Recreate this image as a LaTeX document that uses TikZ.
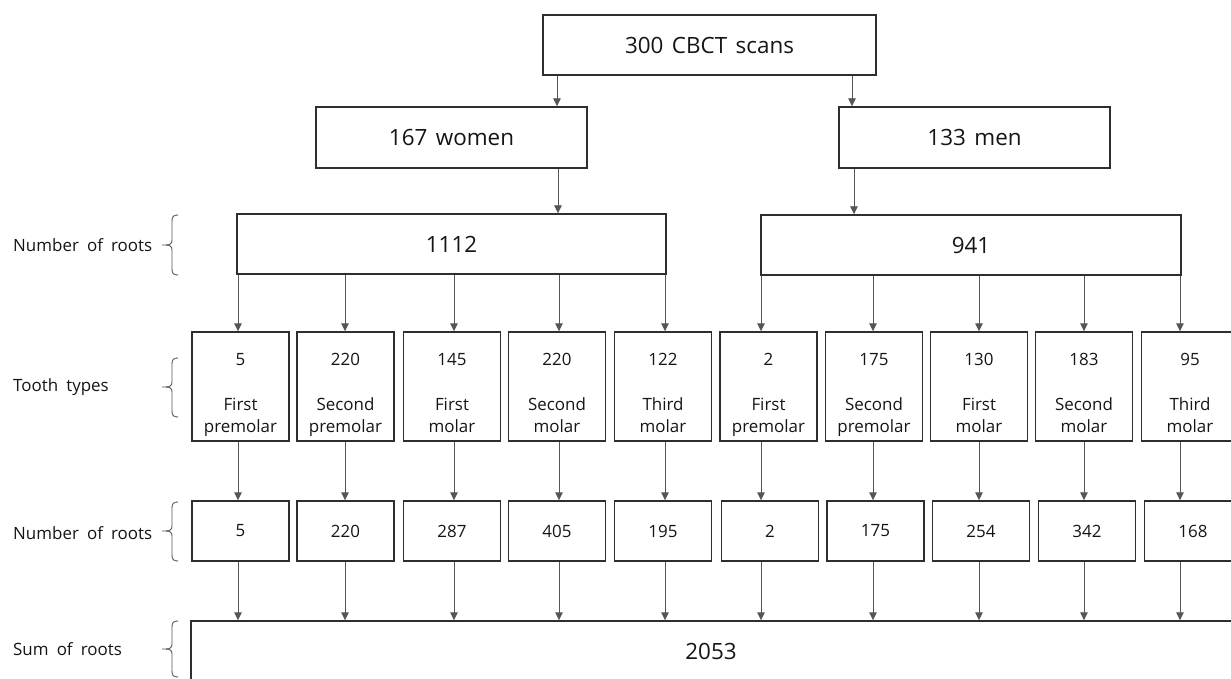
\documentclass[tikz,border=0pt]{standalone}
\usepackage{fontspec}
\setmainfont{Open Sans}
\usetikzlibrary{arrows.meta}
\definecolor{boxc}{HTML}{2E2E2E}
\definecolor{linec}{HTML}{555555}
\definecolor{txt}{HTML}{151515}
\definecolor{bracec}{HTML}{555555}
\newcommand\myBigFont{\fontsize{22.5}{26}\selectfont\spaceskip 0.38em\relax}
\newcommand\myMedFont{\fontsize{17}{22}\selectfont\spaceskip 0.48em\relax}
\begin{document}
\begin{tikzpicture}[x=1bp,y=-1bp,
  box/.style={draw=boxc, line width=1.4bp, inner sep=0pt},
  arr/.style={draw=linec, line width=0.9bp, -{Triangle[width=7.5bp,length=8bp]}},
  big/.style={font=\myBigFont, text=txt},
  med/.style={font=\myMedFont, text=txt},
  brc/.style={draw=bracec, line width=0.9bp},
]
\useasboundingbox (0,0) rectangle (1231,679);
\clip (0,0) rectangle (1231,679);

% top levels
\node[box, big, minimum width=333bp, minimum height=60bp] (top) at (709.5,45) {300 CBCT scans};
\node[box, big, minimum width=271bp, minimum height=61bp] (women) at (451.5,137.5) {167 women};
\node[box, big, minimum width=271bp, minimum height=61bp] (men) at (974.5,137.5) {133 men};
\node[box, big, minimum width=429bp, minimum height=60bp] (L) at (451.5,244) {1112};
\node[box, big, minimum width=420bp, minimum height=60bp] (R) at (971,245) {941};

\coordinate (cw) at (557,0);
\coordinate (cm) at (852,0);
\coordinate (cw2) at (558,0);
\coordinate (cm2) at (854,0);
\draw[arr] (top.south -| cw) -- (women.north -| cw);
\draw[arr] (top.south -| cm) -- (men.north -| cm);
\draw[arr] (women.south -| cw2) -- (L.north -| cw2);
\draw[arr] (men.south -| cm2) -- (R.north -| cm2);

% sum box
\node[box, minimum width=1059bp, minimum height=61bp] (sum) at (720.5,651.5) {};
\node[big] (sumtext) at (711,651) {2053};

% tooth and root boxes
\foreach \i/\cx/\ax/\num/\la/\lb/\ncx/\nn/\p in {
1/240.5/238/5/First/premolar/240.5/5/L,
2/345.5/345/220/Second/premolar/345.5/220/L,
3/452/454/145/First/molar/452/287/L,
4/557/559/220/Second/molar/557/405/L,
5/663/665/122/Third/molar/663/195/L,
6/768.5/761/2/First/premolar/770/2/R,
7/874/873/175/Second/premolar/875.5/175/R,
8/979/979/130/First/molar/981/254/R,
9/1084/1084/183/Second/molar/1087/342/R,
10/1190/1180/95/Third/molar/1193/168/R}
{
  \node[box, minimum width=97bp, minimum height=109bp] (t\i) at (\cx,386.5) {};
  \node[med, anchor=base, inner sep=0pt] (t\i n) at (\cx,365) {\num};
  \node[med, anchor=base, inner sep=0pt] (t\i a) at (\cx,410) {\la};
  \node[med, anchor=base, inner sep=0pt] (t\i b) at (\cx,432) {\lb};
  \node[box, med, minimum width=97bp, minimum height=60bp] (n\i) at (\ncx,531) {\nn};
  \coordinate (a\i) at (\ax,0);
  \draw[arr] (\p.south -| a\i) -- (t\i.north -| a\i);
  \draw[arr] (t\i.south -| a\i) -- (n\i.north -| a\i);
  \draw[arr] (n\i.south -| a\i) -- (sum.north -| a\i);
}

% left labels
\node[med, anchor=west, inner sep=0pt] (lab1) at (13,245) {Number of roots};
\node[med, anchor=west, inner sep=0pt] (lab2) at (13,387) {Tooth types};
\node[med, anchor=west, inner sep=0pt] (lab3) at (13,533) {Number of roots};
\node[med, anchor=west, inner sep=0pt] (lab4) at (13,649) {Sum of roots};

% braces
\foreach \t/\m/\b in {215/245/275, 358/387/417, 502/531/561, 621/649/677}
{
  \draw[brc] (178,\t) .. controls (173.5,\t) and (172,\t+1.5) .. (172,\t+6)
    -- (172,\m-5) .. controls (172,\m-1.5) and (170,\m) .. (166,\m) -- (162,\m);
  \draw[brc] (166,\m) .. controls (170,\m) and (172,\m+1.5) .. (172,\m+5)
    -- (172,\b-6) .. controls (172,\b-1.5) and (173.5,\b) .. (178,\b);
}
\end{tikzpicture}
\end{document}
